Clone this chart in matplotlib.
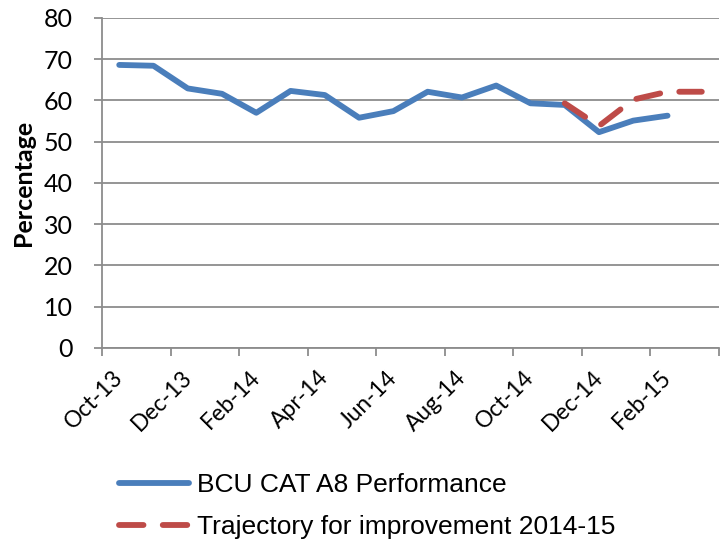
import matplotlib.pyplot as plt
from matplotlib.lines import Line2D

months = ["Oct-13", "Nov-13", "Dec-13", "Jan-14", "Feb-14", "Mar-14", "Apr-14", "May-14", "Jun-14",
          "Jul-14", "Aug-14", "Sep-14", "Oct-14", "Nov-14", "Dec-14", "Jan-15", "Feb-15", "Mar-15"]
performance = [68.6, 68.4, 62.9, 61.6, 57.0, 62.3, 61.3, 55.8, 57.4,
               62.1, 60.7, 63.6, 59.3, 58.9, 52.3, 55.1, 56.3]
trajectory = [59.3, 53.8, 60.2, 62.1, 62.1]
traj_start = 13  # Nov-14

blue = "#4a7ebb"
red = "#be4b48"
grid_col = "#8c8c8c"

fig = plt.figure(figsize=(7.24, 5.42), dpi=100)
ax = fig.add_axes([0.141, 0.358, 0.852, 0.609])

ax.set_ylim(0, 80)
ax.set_xlim(0, len(months))
ax.set_yticks(range(0, 81, 10))
ax.yaxis.grid(True, color=grid_col, linewidth=1.3)
ax.set_axisbelow(True)

x_perf = [i + 0.5 for i in range(len(performance))]
x_traj = [traj_start + i + 0.5 for i in range(len(trajectory))]
ax.plot(x_perf, performance, color=blue, linewidth=4.2, solid_capstyle="round", solid_joinstyle="round", zorder=3)
ax.plot(x_traj, trajectory, color=red, linewidth=4.2, dashes=(4.2, 3.3), dash_capstyle="round", zorder=4)

# category axis: tick marks between every 2nd category, labels on category centres
ax.set_xticks(range(0, len(months) + 1, 2))
ax.set_xticklabels([])
ax.tick_params(axis="x", length=6, width=1.3, color=grid_col, direction="out")
ax.tick_params(axis="y", length=6, width=1.3, color=grid_col, direction="out", labelsize=18, pad=15)
for lab in ax.get_yticklabels():
    lab.set_family("Lato")
for i in range(0, len(months), 2):
    ax.text(i + 0.5 - 0.2, -4.6, months[i], rotation=45, ha="right", va="top",
            rotation_mode="anchor", fontsize=16.5, family="Lato")

for s in ["top", "right"]:
    ax.spines[s].set_visible(False)
ax.spines["left"].set_color(grid_col)
ax.spines["left"].set_linewidth(1.3)
ax.spines["bottom"].set_color(grid_col)
ax.spines["bottom"].set_linewidth(1.3)

ax.set_ylabel("Percentage", fontsize=18, fontweight="bold", family="Lato")
ax.yaxis.set_label_coords(-0.108, 0.5)

handles = [Line2D([], [], color=blue, linewidth=4.2, solid_capstyle="round"),
           Line2D([], [], color=red, linewidth=4.2, dashes=(4.2, 3.3), dash_capstyle="round")]
fig.legend(handles, ["BCU CAT A8 Performance", "Trajectory for improvement 2014-15"],
           loc="upper left", bbox_to_anchor=(0.15, 0.147), frameon=False,
           prop={"family": "Liberation Sans", "size": 19}, handlelength=2.65,
           handletextpad=0.3, labelspacing=0.68, borderaxespad=0)

fig.savefig("out.png", dpi=100)
